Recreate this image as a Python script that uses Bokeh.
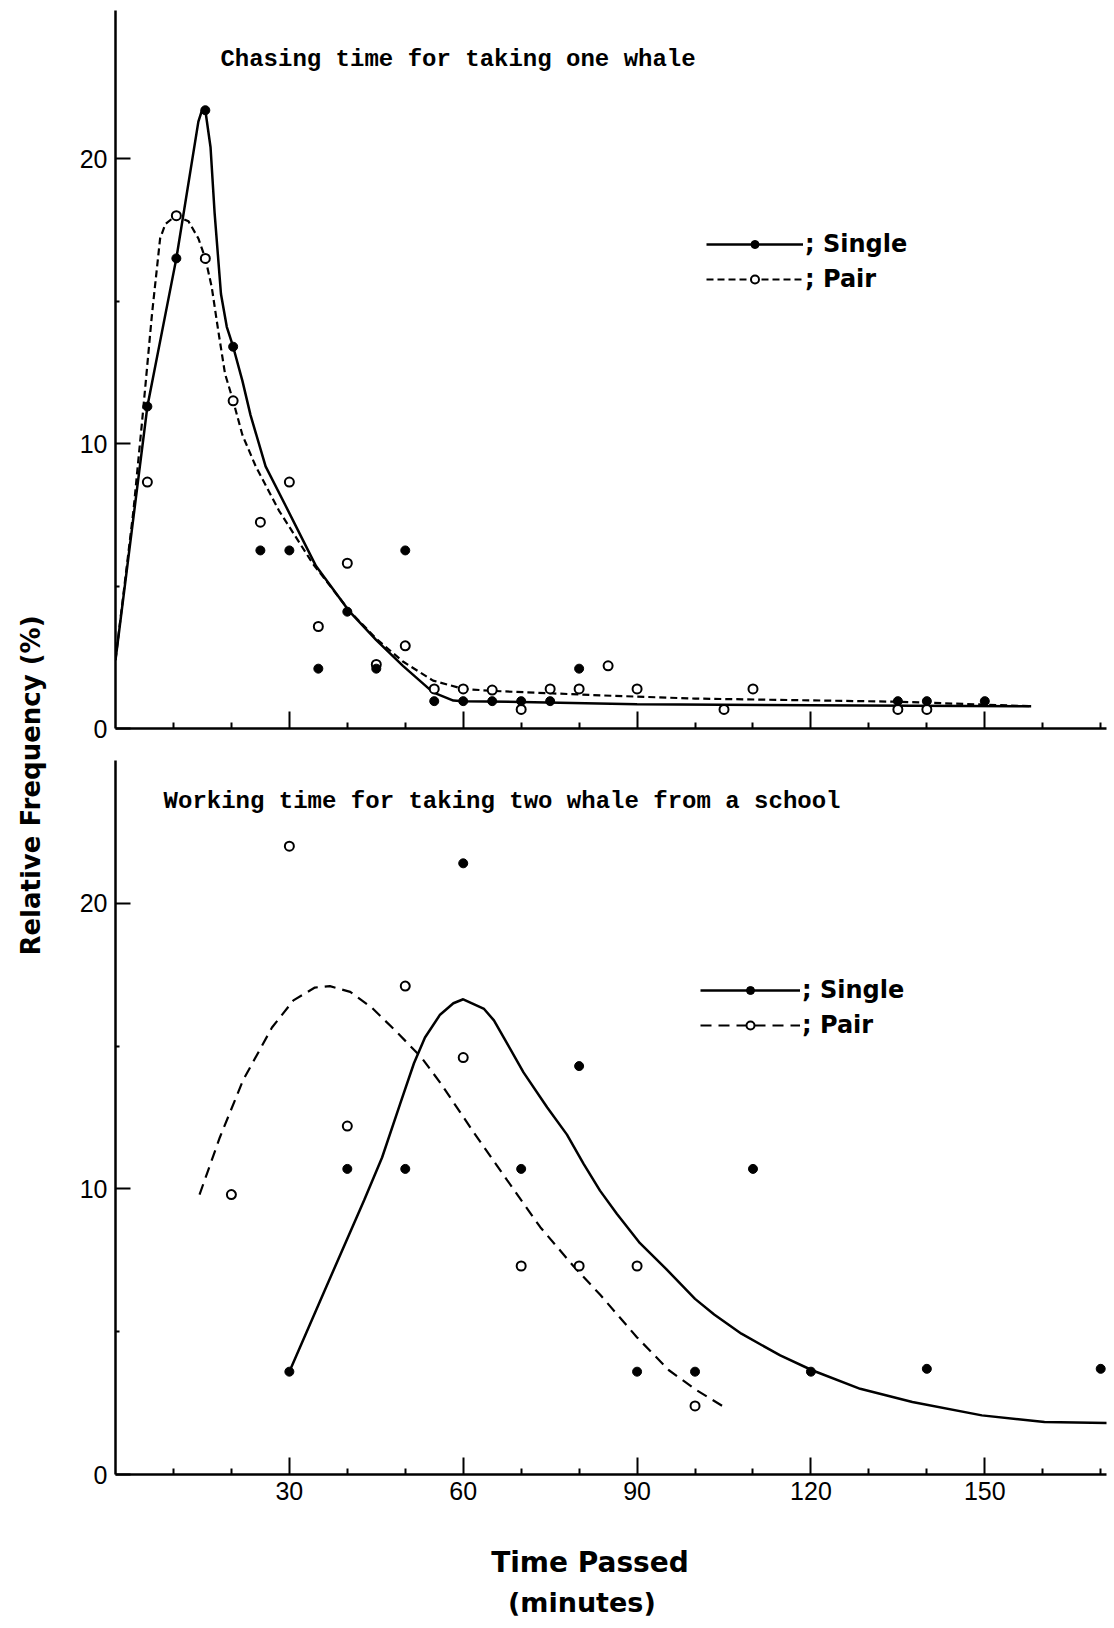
import math
from bokeh.plotting import figure
from bokeh.models import Range1d, FixedTicker, Label, Legend, LegendItem
from bokeh.layouts import row, column
from bokeh.embed import file_html
from bokeh.resources import INLINE

# ---------------- data ----------------
# Top panel: chasing time for taking one whale (x: minutes, y: relative frequency %)
top_single_x = [5.5, 10.5, 15.5, 20.3, 25, 30, 35, 40, 45, 50, 55, 60, 65, 70, 75, 80, 135, 140, 150]
top_single_y = [11.3, 16.5, 21.7, 13.4, 6.25, 6.25, 2.1, 4.1, 2.1, 6.25, 0.96, 0.96, 0.96, 0.96, 0.96, 2.1, 0.96, 0.96, 0.96]
top_pair_x = [5.5, 10.5, 15.5, 20.3, 25, 30, 35, 40, 45, 50, 55, 60, 65, 70, 75, 80, 85, 90, 105, 110, 135, 140]
top_pair_y = [8.65, 18.0, 16.5, 11.5, 7.24, 8.65, 3.58, 5.8, 2.25, 2.9, 1.39, 1.39, 1.35, 0.67, 1.39, 1.39, 2.2, 1.39, 0.67, 1.39, 0.67, 0.67]

top_single_curve_x = [0, 5.5, 10.5, 14.3, 15.0, 15.5, 16.4, 17.1, 18.2, 19.2, 20.3, 21.9, 23.3, 25.9, 29.4, 34.6, 40.4, 45, 49.6, 54.8, 58.3, 60, 70, 90, 120, 158]
top_single_curve_y = [2.4, 11.3, 16.5, 21.3, 21.75, 21.7, 20.4, 18.1, 15.25, 14.1, 13.4, 12.2, 11.0, 9.2, 7.8, 5.7, 4.1, 3.1, 2.2, 1.27, 0.98, 0.96, 0.93, 0.85, 0.82, 0.78]
top_pair_curve_x = [0, 3.1, 4.6, 6.3, 7.7, 8.6, 10.4, 12.6, 14.3, 15.5, 16.6, 17.7, 18.9, 20.3, 21.9, 24.2, 28.2, 34, 40.4, 45, 49.6, 54.8, 60, 65, 84, 100, 135, 158]
top_pair_curve_y = [2.4, 7.65, 10.8, 14.55, 17.2, 17.7, 18.0, 17.8, 17.2, 16.5, 15.5, 14.0, 12.45, 11.5, 10.3, 9.2, 7.65, 5.8, 4.12, 3.15, 2.35, 1.68, 1.39, 1.32, 1.16, 1.05, 0.94, 0.78]

# Bottom panel: working time for taking two whale from a school
bot_single_x = [30, 40, 50, 60, 70, 80, 90, 100, 110, 120, 140, 170]
bot_single_y = [3.6, 10.7, 10.7, 21.4, 10.7, 14.3, 3.6, 3.6, 10.7, 3.6, 3.7, 3.7]
bot_pair_x = [20, 30, 40, 50, 60, 70, 80, 90, 100]
bot_pair_y = [9.8, 22.0, 12.2, 17.1, 14.6, 7.3, 7.3, 7.3, 2.4]

bot_single_curve_x = [30, 36, 42.9, 46, 49.1, 51.5, 53.4, 56, 58.3, 60, 63.6, 65.3, 67, 70.4, 74.5, 77.9, 80.8, 83.6, 86.5, 90.5, 95, 100, 103.3, 108, 114.7, 120.2, 128.5, 137.5, 149.5, 160.3, 172]
bot_single_curve_y = [3.6, 6.4, 9.6, 11.1, 12.97, 14.4, 15.3, 16.1, 16.5, 16.64, 16.3, 15.9, 15.3, 14.08, 12.85, 11.9, 10.87, 9.94, 9.13, 8.1, 7.2, 6.15, 5.6, 4.93, 4.17, 3.65, 3.0, 2.54, 2.07, 1.84, 1.8]
bot_pair_curve_x = [14.5, 18, 22, 27, 30.7, 34.4, 37, 40.5, 44.2, 48.5, 52.8, 56.1, 61.9, 67.6, 73.3, 79, 83.6, 90, 95.5, 100.3, 104.8]
bot_pair_curve_y = [9.8, 11.8, 13.8, 15.65, 16.6, 17.05, 17.1, 16.9, 16.35, 15.5, 14.6, 13.7, 11.95, 10.3, 8.66, 7.3, 6.3, 4.8, 3.65, 2.95, 2.39]

x_major_ticks = [30, 60, 90, 120, 150]
x_tick_labels = ["30", "60", "90", "120", "150"]
x_minor_ticks = [10, 20, 40, 50, 70, 80, 100, 110, 130, 140, 160, 170]
y_major_ticks = [0, 10, 20]
y_tick_labels = ["0", "10", "20"]
y_minor_ticks = [5, 15]

top_title = "Chasing time for taking one whale"
bot_title = "Working time for taking two whale from a school"
y_title = "Relative  Frequency  (%)"
x_title = "Time   Passed"
x_unit = "(minutes)"
legend_labels = ["; Single", "; Pair"]

MONO = "Liberation Mono"
SANS = "Liberation Sans"
BOLD = "DejaVu Sans"


def make_panel(height, b_top, b_bottom, y_end, show_x_labels):
    p = figure(width=1054, height=height, x_range=Range1d(0, 171), y_range=Range1d(0, y_end),
               output_backend="svg", toolbar_location=None,
               min_border_left=55, min_border_right=8,
               min_border_top=b_top, min_border_bottom=b_bottom)
    p.outline_line_color = None
    p.grid.visible = False
    p.background_fill_color = "white"
    p.border_fill_color = "white"

    xa = p.xaxis[0]
    xa.ticker = FixedTicker(ticks=x_major_ticks, minor_ticks=x_minor_ticks)
    xa.axis_line_width = 2.5
    xa.major_tick_in = 17
    xa.major_tick_out = 0
    xa.minor_tick_in = 6
    xa.minor_tick_out = 0
    xa.major_tick_line_width = 2
    xa.minor_tick_line_width = 2
    if show_x_labels:
        xa.major_label_overrides = dict(zip(x_major_ticks, x_tick_labels))
        xa.major_label_text_font = SANS
        xa.major_label_text_font_size = "25px"
        xa.major_label_standoff = 7
    else:
        xa.major_label_overrides = {t: "" for t in x_major_ticks}
        xa.major_label_text_font_size = "1px"
        xa.major_label_standoff = 0
    xa.major_label_text_color = "black"

    ya = p.yaxis[0]
    ya.ticker = FixedTicker(ticks=y_major_ticks, minor_ticks=y_minor_ticks)
    ya.major_label_overrides = dict(zip(y_major_ticks, y_tick_labels))
    ya.axis_line_width = 2.5
    ya.major_tick_in = 15
    ya.major_tick_out = 0
    ya.minor_tick_in = 4
    ya.minor_tick_out = 0
    ya.major_tick_line_width = 2
    ya.minor_tick_line_width = 2
    ya.major_label_text_font = SANS
    ya.major_label_text_font_size = "25px"
    ya.major_label_text_color = "black"
    ya.major_label_standoff = 8
    return p


def make_legend(items, loc, gw):
    return Legend(items=items, location=loc, orientation="vertical",
                  glyph_width=gw, glyph_height=20, label_height=35, label_standoff=2,
                  spacing=0, padding=0, margin=0,
                  label_text_font=BOLD, label_text_font_style="bold",
                  label_text_font_size="24px", label_text_color="black",
                  border_line_color=None, background_fill_alpha=0)


# ---------------- top panel ----------------
p1 = make_panel(745, 10, 17, 25.2, False)
l1 = p1.line(top_single_curve_x, top_single_curve_y, line_color="black", line_width=2.5)
l2 = p1.line(top_pair_curve_x, top_pair_curve_y, line_color="black", line_width=2.2, line_dash="7 4")
s2 = p1.scatter(top_pair_x, top_pair_y, marker="circle", size=9, fill_color="white",
                line_color="black", line_width=2)
s1 = p1.scatter(top_single_x, top_single_y, marker="circle", size=9, fill_color="black",
                line_color="black")
p1.add_layout(Label(x=18.1, y=23.47, text=top_title, text_font=MONO, text_font_style="bold",
                    text_font_size="24px", text_baseline="middle", text_align="left",
                    text_color="black"))
p1.add_layout(make_legend([LegendItem(label=legend_labels[0], renderers=[l1, s1]),
                           LegendItem(label=legend_labels[1], renderers=[l2, s2])],
                          (591, 432), 97))

# ---------------- bottom panel ----------------
p2 = make_panel(769, 15, 40, 25.0, True)
m1 = p2.line(bot_single_curve_x, bot_single_curve_y, line_color="black", line_width=2.5)
m2 = p2.line(bot_pair_curve_x, bot_pair_curve_y, line_color="black", line_width=2.2, line_dash="11 7")
t2 = p2.scatter(bot_pair_x, bot_pair_y, marker="circle", size=9, fill_color="white",
                line_color="black", line_width=2)
t1 = p2.scatter(bot_single_x, bot_single_y, marker="circle", size=9, fill_color="black",
                line_color="black")
p2.add_layout(Label(x=8.3, y=23.57, text=bot_title, text_font=MONO, text_font_style="bold",
                    text_font_size="24px", text_baseline="middle", text_align="left",
                    text_color="black"))
p2.add_layout(make_legend([LegendItem(label=legend_labels[0], renderers=[m1, t1]),
                           LegendItem(label=legend_labels[1], renderers=[m2, t2])],
                          (585, 432), 100))

# ---------------- x title strip ----------------
p3 = figure(width=1054, height=114, x_range=Range1d(0, 1054), y_range=Range1d(0, 114),
            x_axis_type=None, y_axis_type=None, output_backend="svg", toolbar_location=None,
            min_border_left=0, min_border_right=0, min_border_top=0, min_border_bottom=0)
p3.outline_line_color = None
p3.grid.visible = False
p3.add_layout(Label(x=515, y=66, text=x_title, text_font=BOLD, text_font_style="bold",
                    text_font_size="28px", text_baseline="middle", text_align="center",
                    text_color="black"))
p3.add_layout(Label(x=496, y=26, text=x_unit, text_font=BOLD, text_font_style="bold",
                    text_font_size="27px", text_baseline="middle", text_align="center",
                    text_color="black"))

# ---------------- shared y title ----------------
py = figure(width=60, height=1628, x_range=Range1d(0, 60), y_range=Range1d(0, 1628),
            x_axis_type=None, y_axis_type=None, output_backend="svg", toolbar_location=None,
            min_border_left=0, min_border_right=0, min_border_top=0, min_border_bottom=0)
py.outline_line_color = None
py.grid.visible = False
py.add_layout(Label(x=30, y=852, text=y_title, angle=math.pi / 2, text_font=BOLD,
                    text_font_style="bold", text_font_size="26px", text_color="black",
                    text_align="center", text_baseline="middle"))

layout = row(py, column(p1, p2, p3, spacing=0), spacing=0)
open("out.html", "w").write(file_html(layout, INLINE))
